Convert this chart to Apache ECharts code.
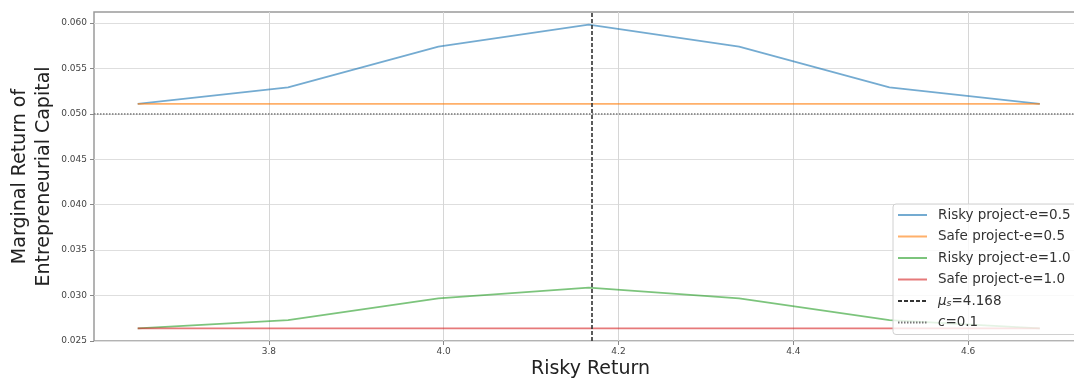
<!DOCTYPE html>
<html>
<head>
<meta charset="utf-8">
<script src="https://cdn.jsdelivr.net/npm/echarts@6/dist/echarts.min.js"></script>
<style>
html,body{margin:0;padding:0;background:#fff;}
#chart{width:1074px;height:383px;}
</style>
</head>
<body>
<div id="chart"></div>
<script>
// ---- data ----
const riskyReturn = [3.650, 3.822, 3.994, 4.166, 4.338, 4.510, 4.682];
const riskyE05 = [0.0511, 0.0529, 0.0574, 0.0598, 0.0574, 0.0529, 0.0511];
const safeE05  = [0.0511, 0.0511, 0.0511, 0.0511, 0.0511, 0.0511, 0.0511];
const riskyE10 = [0.02638, 0.0273, 0.0297, 0.03088, 0.0297, 0.0273, 0.02638];
const safeE10  = [0.02638, 0.02638, 0.02638, 0.02638, 0.02638, 0.02638, 0.02638];
const muS = 4.168;
const cLevel = 0.05;
const xTicks = [3.8, 4.0, 4.2, 4.4, 4.6];
const yTicks = [0.025, 0.030, 0.035, 0.040, 0.045, 0.050, 0.055, 0.060];
const seriesNames = ['Risky project-e=0.5', 'Safe project-e=0.5', 'Risky project-e=1.0', 'Safe project-e=1.0', 'mu', 'c'];

const pair = (xs, ys) => xs.map((x, i) => [x, ys[i]]);
const FONT = 'DejaVu Sans';

function lineSeries(name, ys, color) {
  return {
    name: name, type: 'line', data: pair(riskyReturn, ys),
    symbol: 'none', color: color, z: 3,
    lineStyle: {color: color, width: 1.8, opacity: 0.62},
    emphasis: {disabled: true}
  };
}

const chart = echarts.init(document.getElementById('chart'), null, {renderer: 'canvas'});
chart.setOption({
  animation: false,
  textStyle: {fontFamily: FONT},
  grid: {left: 94, top: 12, right: -13, bottom: 42, show: true, borderColor: '#9a9a9a', borderWidth: 1.5,
         containLabel: false, outerBoundsMode: 'none'},
  xAxis: {
    type: 'value', min: 3.6, max: 4.736,
    name: 'Risky Return', nameLocation: 'middle', nameGap: 19, nameMoveOverlap: false,
    nameTextStyle: {fontSize: 19, color: '#222', fontFamily: FONT},
    axisLine: {show: false},
    axisTick: {show: true, length: 4, lineStyle: {color: '#888'}, customValues: xTicks},
    axisLabel: {fontSize: 9, color: '#444', margin: 6, customValues: xTicks, formatter: v => v.toFixed(1)},
    splitLine: {show: true, lineStyle: {color: '#d6d6d6', width: 1}}
  },
  yAxis: {
    type: 'value', min: 0.025, max: 0.0612,
    name: 'Marginal Return of\nEntrepreneurial Capital', nameLocation: 'middle', nameGap: 38, nameMoveOverlap: false,
    nameTextStyle: {fontSize: 19, color: '#222', lineHeight: 24, fontFamily: FONT},
    axisLine: {show: false},
    axisTick: {show: true, length: 4, lineStyle: {color: '#888'}, customValues: yTicks},
    axisLabel: {fontSize: 9, color: '#444', margin: 7, customValues: yTicks, formatter: v => v.toFixed(3)},
    splitLine: {show: true, lineStyle: {color: '#dedede', width: 1.2}}
  },
  legend: {
    orient: 'vertical', left: 893, top: 204,
    padding: [3, 8, 4, 4],
    itemWidth: 29, itemHeight: 14, itemGap: 5.5,
    backgroundColor: 'rgba(255,255,255,0.8)',
    borderColor: '#d0d0d0', borderWidth: 1, borderRadius: 3,
    itemStyle: {opacity: 0},
    data: seriesNames,
    formatter: function (n) {
      if (n === 'mu') return '{mu|μ}{sub|s}=4.168';
      if (n === 'c') return '{it|c}=0.1';
      return n;
    },
    textStyle: {
      fontSize: 13.5, color: '#333', lineHeight: 16, fontFamily: FONT, padding: [0, 0, 0, 6],
      rich: {
        mu: {fontSize: 13.5, fontStyle: 'italic', fontFamily: FONT, color: '#333'},
        sub: {fontSize: 9.5, fontStyle: 'italic', fontFamily: FONT, color: '#333', padding: [6, 0, 0, 0]},
        it: {fontSize: 13.5, fontStyle: 'italic', fontFamily: FONT, color: '#333'}
      }
    }
  },
  series: [
    lineSeries(seriesNames[0], riskyE05, '#1f77b4'),
    lineSeries(seriesNames[1], safeE05, '#ff7f0e'),
    lineSeries(seriesNames[2], riskyE10, '#2ca02c'),
    lineSeries(seriesNames[3], safeE10, '#d62728'),
    {
      name: 'mu', type: 'line', data: [], symbol: 'none', color: '#333',
      lineStyle: {color: '#333', width: 1.6, type: [4, 2]},
      markLine: {
        silent: true, symbol: ['none', 'none'], label: {show: false},
        lineStyle: {color: '#333', width: 1.6, type: [4, 2]},
        data: [{xAxis: muS}]
      }
    },
    {
      name: 'c', type: 'line', data: [], symbol: 'none', color: '#777',
      lineStyle: {color: '#777', width: 1.6, type: [1.5, 1.5]},
      markLine: {
        silent: true, symbol: ['none', 'none'], label: {show: false},
        lineStyle: {color: '#777', width: 1.6, type: [1.5, 1.5]},
        data: [{yAxis: cLevel}]
      }
    }
  ]
});
</script>
</body>
</html>
